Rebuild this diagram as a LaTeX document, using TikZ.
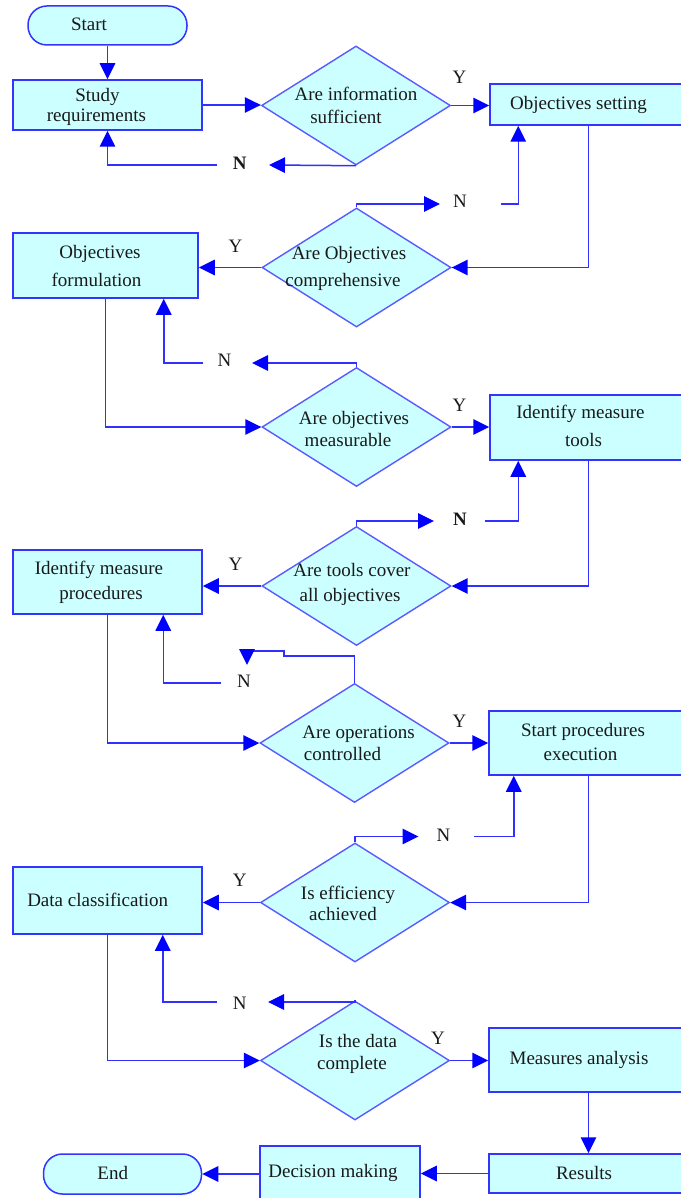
\documentclass[tikz,border=0pt]{standalone}
\usepackage{fontspec}
\setmainfont{Liberation Serif}
\usetikzlibrary{arrows.meta,shapes.geometric,fit}
\definecolor{fillc}{HTML}{CCFFFF}
\definecolor{boxc}{HTML}{3434FF}
\definecolor{diac}{HTML}{5A5AFF}
\definecolor{linec}{HTML}{3030FF}
\definecolor{tipc}{HTML}{0000FF}
\newcommand{\shiftln}[2]{\hspace*{#1}#2\hspace*{-#1}}
\tikzset{
  box/.style={rectangle, draw=boxc, fill=fillc, line width=1.5pt, inner sep=0pt},
  term/.style={box, rounded corners=19pt},
  dia/.style={diamond, draw=diac, fill=fillc, line width=1.4pt, inner sep=0pt,
              minimum width=189pt, minimum height=119pt},
  txt/.style={inner sep=0pt, align=center, text=black!90, font=\fontsize{19}{#1}\selectfont},
  txt/.default=23,
  lbl/.style={inner sep=0pt, text=black!90, font=\fontsize{19}{23}\selectfont},
  arr/.style={draw=linec, line width=1.5pt, -{Triangle[length=16pt,width=15.5pt,color=tipc]}}
}
\begin{document}
\begin{tikzpicture}[x=1pt,y=-1pt]
\useasboundingbox (0,0) rectangle (680,1198);
% ---------- shapes ----------
\node[term, fit={(28,6) (187,45)}] (start) {};
\node[box, fit={(13,80) (202,130)}] (study) {};
\node[dia] (d1) at (356,105.5) {};
\node[box, fit={(490,84) (687,125)}] (objset) {};
\node[dia] (d2) at (356.5,267.5) {};
\node[box, fit={(13,233) (198,298)}] (form) {};
\node[dia] (d3) at (356.5,427) {};
\node[box, fit={(490,395) (687,460)}] (tools) {};
\node[dia] (d4) at (356.5,586) {};
\node[box, fit={(13,550) (202,614)}] (proc) {};
\node[dia] (d5) at (354.5,743) {};
\node[box, fit={(489,711) (688,775)}] (exec) {};
\node[dia] (d6) at (355,902.5) {};
\node[box, fit={(13,867) (202,934)}] (dcl) {};
\node[dia] (d7) at (355,1060.5) {};
\node[box, fit={(489,1028) (688,1092)}] (meas) {};
\node[box, fit={(489,1154) (688,1193)}] (res) {};
\node[box, fit={(260,1146) (420,1202)}] (dec) {};
\node[term, fit={(43.5,1154) (201.5,1194)}] (fin) {};
% ---------- free ends ----------
\coordinate (n1a) at (269,165);   \coordinate (n1b) at (217,165);
\coordinate (n2a) at (440,204);   \coordinate (n2b) at (501,204);
\coordinate (n3a) at (252,363);   \coordinate (n3b) at (203,363);
\coordinate (n4a) at (434,521);   \coordinate (n4b) at (485,521);
\coordinate (n5a) at (284,656);   \coordinate (n5b) at (247,651);
\coordinate (n5c) at (247,665);   \coordinate (n5d) at (221,683);
\coordinate (n6a) at (418.5,836.5); \coordinate (n6b) at (474,836.5);
\coordinate (n7a) at (268,1002);  \coordinate (n7b) at (217,1002);
% ---------- connectors ----------
\draw[arr] (start.south) -- (start.south |- study.north);
\draw[arr] (study.east) -- (study.east -| d1.west);
\draw[arr] (d1.east) -- (d1.east -| objset.west);
\draw[arr] (d1.south) -- (n1a);
\draw[arr] (n1b) -| (study.south);
\draw[arr] (objset.south) |- (d2.east);
\draw[arr] (d2.north) |- (n2a);
\draw[arr] (n2b) -| ([xshift=29pt]objset.south west);
\draw[arr] (d2.west) -- (d2.west -| form.east);
\draw[arr] (form.south) |- (d3.west);
\draw[arr] (d3.north) |- (n3a);
\draw[arr] (n3b) -| ([xshift=-35pt]form.south east);
\draw[arr] (d3.east) -- (d3.east -| tools.west);
\draw[arr] (tools.south) |- (d4.east);
\draw[arr] (d4.north) |- (n4a);
\draw[arr] (n4b) -| ([xshift=29pt]tools.south west);
\draw[arr] (d4.west) -- (d4.west -| proc.east);
\draw[arr] (proc.south) |- (d5.west);
\draw[arr] (d5.north) |- (n5a) |- (n5b) -- (n5c);
\draw[arr] (n5d) -| ([xshift=-39.5pt]proc.south east);
\draw[arr] (d5.east) -- (d5.east -| exec.west);
\draw[arr] (exec.south) |- (d6.east);
\draw[arr] (d6.north) |- (n6a);
\draw[arr] (n6b) -| ([xshift=25.5pt]exec.south west);
\draw[arr] (d6.west) -- (d6.west -| dcl.east);
\draw[arr] (dcl.south) |- (d7.west);
\draw[arr] (d7.north) |- (n7a);
\draw[arr] (n7b) -| ([xshift=-40pt]dcl.south east);
\draw[arr] (d7.east) -- (d7.east -| meas.west);
\draw[arr] (meas.south) -- (meas.south |- res.north);
\draw[arr] (res.west) -- (res.west -| dec.east);
\draw[arr] (dec.west) -- (dec.west -| fin.east);
% ---------- texts ----------
\node[txt] (t-start) at (89,24.5) {Start};
\node[txt=20] (t-study) at (97,107) {\shiftln{0.5pt}{Study}\\\shiftln{-0.5pt}{requirements}};
\node[txt] (t-d1) at (351,105) {\shiftln{5pt}{Are information}\\\shiftln{-5pt}{sufficient}};
\node[txt] (t-objset) at (578.5,104.5) {Objectives setting};
\node[txt=27] (t-d2) at (346,268) {\shiftln{3pt}{Are Objectives}\\\shiftln{-3pt}{comprehensive}};
\node[txt=27.5] (t-form) at (98,266) {\shiftln{2pt}{Objectives}\\\shiftln{-1.5pt}{formulation}};
\node[txt=21.5] (t-d3) at (351,429) {\shiftln{3pt}{Are objectives}\\\shiftln{-3pt}{measurable}};
\node[txt=27.5] (t-tools) at (582,426) {\shiftln{-1.5pt}{Identify measure}\\\shiftln{1.5pt}{tools}};
\node[txt=25] (t-d4) at (351,584) {\shiftln{1pt}{Are tools cover}\\\shiftln{-1pt}{all objectives}};
\node[txt=25] (t-proc) at (100,582.5) {\shiftln{-1pt}{Identify measure}\\\shiftln{1pt}{procedures}};
\node[txt=22] (t-d5) at (350.5,743.5) {\shiftln{8pt}{Are operations}\\\shiftln{-8pt}{controlled}};
\node[txt=24.5] (t-exec) at (582,742) {\shiftln{1pt}{Start procedures}\\\shiftln{-1.5pt}{execution}};
\node[txt=21] (t-d6) at (345.5,903) {\shiftln{2.5pt}{Is efficiency}\\\shiftln{-2.5pt}{achieved}};
\node[txt] (t-dcl) at (97.7,899.5) {Data classification};
\node[txt=22] (t-d7) at (355,1053.5) {\shiftln{3pt}{Is the data}\\\shiftln{-3pt}{complete}};
\node[txt] (t-meas) at (579,1059.5) {Measures analysis};
\node[txt] (t-res) at (584,1172.5) {Results};
\node[txt] (t-dec) at (333,1172.5) {Decision making};
\node[txt] (t-fin) at (112.8,1172.5) {End};
% ---------- Y / N labels ----------
\node[lbl] (y1) at (459.5,77.5) {Y};
\node[lbl] (y2) at (235.5,246.5) {Y};
\node[lbl] (y3) at (459.5,405) {Y};
\node[lbl] (y4) at (235.5,564) {Y};
\node[lbl] (y5) at (459.5,721.5) {Y};
\node[lbl] (y6) at (239.7,880) {Y};
\node[lbl] (y7) at (438,1038.5) {Y};
\node[lbl, font=\fontsize{19}{23}\selectfont\bfseries] (n1) at (239.7,163.5) {N};
\node[lbl] (n2) at (460,201.5) {N};
\node[lbl] (n3) at (224.5,360) {N};
\node[lbl, font=\fontsize{19}{23}\selectfont\bfseries] (n4) at (460,519) {N};
\node[lbl] (n5) at (244,681.5) {N};
\node[lbl] (n6) at (443.5,835) {N};
\node[lbl] (n7) at (239.7,1003.5) {N};
\end{tikzpicture}
\end{document}
